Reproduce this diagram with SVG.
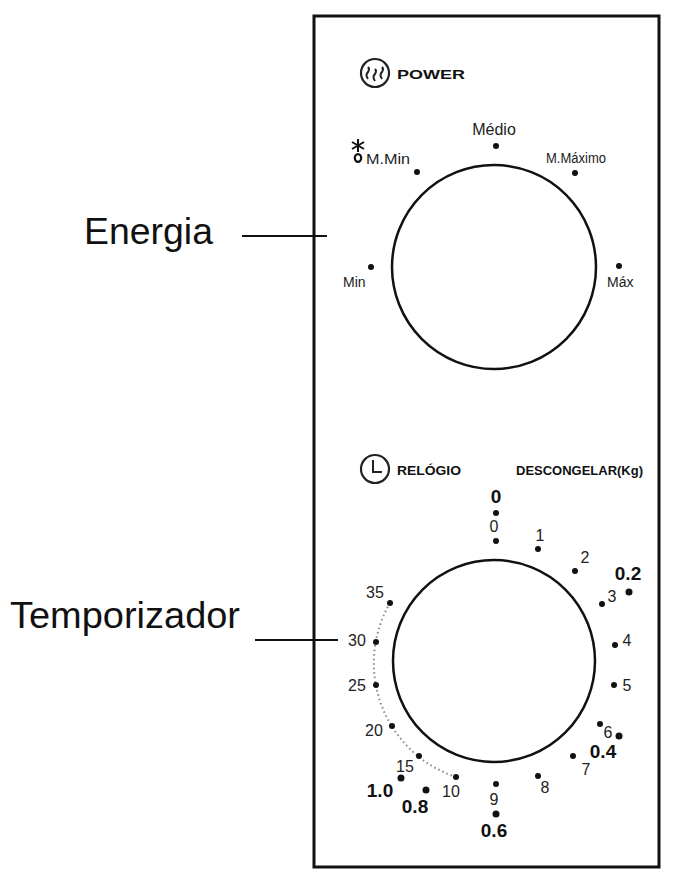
<svg xmlns="http://www.w3.org/2000/svg" width="684" height="873" viewBox="0 0 684 873">
<style>
.d{fill:#111}
.s{font-family:"Liberation Sans",Arial,sans-serif;font-size:14px;fill:#222}
.n{font-family:"Liberation Sans",Arial,sans-serif;font-size:16px;fill:#222;text-anchor:middle}
.b{font-family:"Liberation Sans",Arial,sans-serif;font-size:19px;font-weight:bold;fill:#111;text-anchor:middle}
.h{font-family:"Liberation Sans",Arial,sans-serif;font-size:13px;font-weight:bold;fill:#111}
.big{font-family:"Liberation Sans",Arial,sans-serif;font-size:36px;fill:#111}
.dial{fill:none;stroke:#111;stroke-width:2.5}
</style>
<rect width="684" height="873" fill="#fff"/>
<g id="panel"><rect x="314" y="16" width="345" height="851" fill="none" stroke="#111" stroke-width="3"/></g>
<g id="labels">
<text class="big" x="84" y="244" textLength="129" lengthAdjust="spacingAndGlyphs">Energia</text>
<text class="big" x="10" y="628" textLength="230" lengthAdjust="spacingAndGlyphs">Temporizador</text>
</g>
<g id="connectors" stroke="#111" stroke-width="2">
<line x1="242" y1="236" x2="327" y2="236"/>
<line x1="255" y1="640" x2="338" y2="640"/>
</g>
<g id="power">
<circle cx="375" cy="73" r="14" fill="none" stroke="#222" stroke-width="2.2"/>
<path d="M368 79 q-3 -4 0 -7 q2 -3 0 -5 M375 81 q-3 -4 0 -7 q2 -3 0 -5 M382 79 q-3 -4 0 -7 q2 -3 0 -5" fill="none" stroke="#222" stroke-width="2"/>
<text class="h" x="397" y="79" font-size="15" textLength="68" lengthAdjust="spacingAndGlyphs">POWER</text>
</g>
<g id="power-dial">
<circle class="dial" cx="494" cy="267" r="102"/>
<circle class="d" cx="496" cy="146" r="3"/>
<circle class="d" cx="417" cy="172" r="3"/>
<circle class="d" cx="575" cy="173" r="3"/>
<circle class="d" cx="371" cy="267" r="3"/>
<circle class="d" cx="619" cy="266" r="3"/>
<text class="n" x="494" y="135" font-size="15">Médio</text>
<text class="s" x="366" y="164" textLength="44" lengthAdjust="spacingAndGlyphs">M.Min</text>
<text class="s" x="546" y="163" font-size="13" textLength="60" lengthAdjust="spacingAndGlyphs">M.Máximo</text>
<text class="s" x="343" y="287">Min</text>
<text class="s" x="607" y="287" font-size="13">Máx</text>
<path d="M358 139 V152 M352 142 L364 149 M352 149 L364 142" stroke="#111" stroke-width="2"/>
<ellipse cx="358" cy="158" rx="3.2" ry="3.8" fill="none" stroke="#111" stroke-width="2.2"/>
</g>
<g id="clock">
<circle cx="375" cy="469" r="14" fill="none" stroke="#222" stroke-width="2.2"/>
<path d="M373 460 V472 H382" fill="none" stroke="#222" stroke-width="2"/>
<text class="h" x="397" y="475" font-size="14" textLength="64" lengthAdjust="spacingAndGlyphs">RELÓGIO</text>
<text class="h" x="516" y="475" font-size="13" textLength="127" lengthAdjust="spacingAndGlyphs">DESCONGELAR(Kg)</text>
</g>
<g id="timer-dial">
<circle class="dial" cx="494" cy="661" r="101"/>
<path d="M390 603 A120 120 0 0 0 456 777" fill="none" stroke="#888" stroke-width="2" stroke-dasharray="1.5 3"/>
<g class="d">
<circle cx="496" cy="513" r="3"/><circle cx="496" cy="541" r="3"/><circle cx="538" cy="549" r="3"/>
<circle cx="575" cy="571" r="3"/><circle cx="629" cy="592" r="3.5"/><circle cx="602" cy="604" r="3"/>
<circle cx="615" cy="645" r="3"/><circle cx="614" cy="685" r="3"/><circle cx="600" cy="724" r="3"/>
<circle cx="619" cy="736" r="3.5"/><circle cx="573" cy="756" r="3"/><circle cx="538" cy="776" r="3"/>
<circle cx="496" cy="784" r="3"/><circle cx="496" cy="814" r="3.5"/><circle cx="456" cy="777" r="3"/>
<circle cx="426" cy="790" r="3.5"/><circle cx="401" cy="778" r="3.5"/><circle cx="419" cy="756" r="3"/>
<circle cx="392" cy="726" r="3"/><circle cx="376" cy="685" r="3"/><circle cx="376" cy="642" r="3"/>
<circle cx="390" cy="603" r="3"/>
</g>
<text class="b" x="496" y="503" font-size="21">0</text>
<text class="n" x="494" y="532">0</text>
<text class="n" x="540" y="541">1</text>
<text class="n" x="585" y="563">2</text>
<text class="b" x="628" y="580">0.2</text>
<text class="n" x="612" y="602">3</text>
<text class="n" x="627" y="646">4</text>
<text class="n" x="627" y="691">5</text>
<text class="n" x="608" y="738">6</text>
<text class="b" x="603" y="758">0.4</text>
<text class="n" x="586" y="775">7</text>
<text class="n" x="545" y="793">8</text>
<text class="n" x="494" y="805">9</text>
<text class="b" x="494" y="837">0.6</text>
<text class="n" x="451" y="797">10</text>
<text class="b" x="415" y="813">0.8</text>
<text class="b" x="380" y="797">1.0</text>
<text class="n" x="405" y="772">15</text>
<text class="n" x="374" y="736">20</text>
<text class="n" x="357" y="691">25</text>
<text class="n" x="357" y="646">30</text>
<text class="n" x="375" y="598">35</text>
</g>
</svg>
